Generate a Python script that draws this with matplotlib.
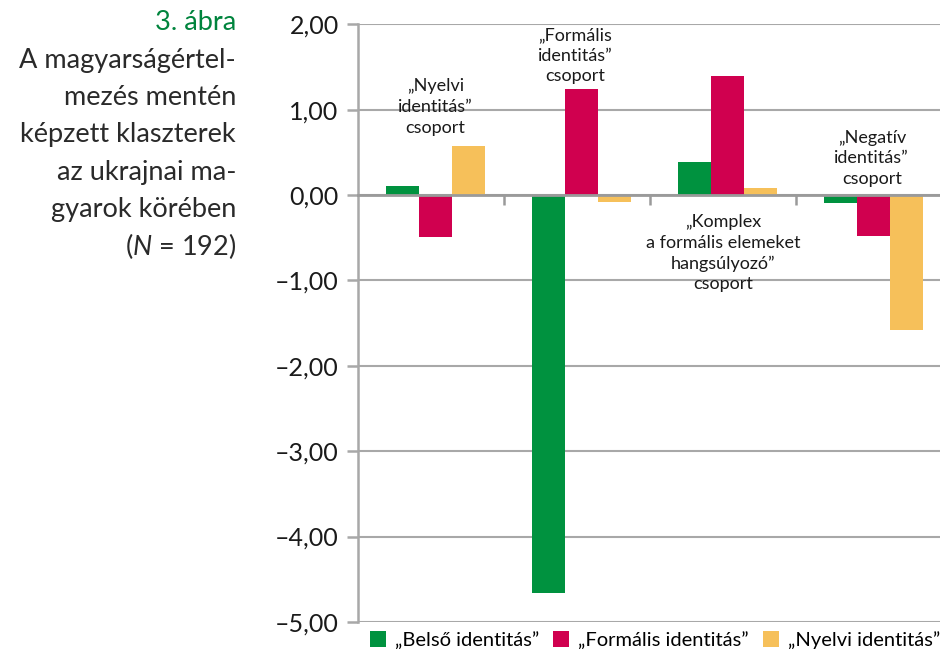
import matplotlib
matplotlib.use("Agg")
import matplotlib.pyplot as plt
import numpy as np

plt.rcParams['font.family'] = ['Lato', 'DejaVu Sans']
plt.rcParams['mathtext.fontset'] = 'custom'
plt.rcParams['mathtext.rm'] = 'Lato'
plt.rcParams['mathtext.it'] = 'Lato:italic'

# data
groups = ['„Nyelvi\nidentitás”\ncsoport',
          '„Formális\nidentitás”\ncsoport',
          '„Komplex\na formális elemeket\nhangsúlyozó”\ncsoport',
          '„Negatív\nidentitás”\ncsoport']
series = ['„Belső identitás”', '„Formális identitás”', '„Nyelvi identitás”']
belso = [0.11, -4.66, 0.39, -0.09]
formalis = [-0.49, 1.24, 1.39, -0.48]
nyelvi = [0.57, -0.08, 0.08, -1.58]
yticks = [2, 1, 0, -1, -2, -3, -4, -5]

colors = ['#00923f', '#d0004f', '#f6c05a']
grid_c = '#a8a8a8'

fig = plt.figure(figsize=(9.4, 6.54), dpi=100)
ax = fig.add_axes([0.381, 0.049, 0.621, 0.914])

x = np.arange(len(groups))
w = 0.225
for k, (vals, c, lab) in enumerate(zip([belso, formalis, nyelvi], colors, series)):
    ax.bar(x + (k - 1) * w + 0.03, vals, width=w, color=c, label=lab, zorder=3)

ax.set_xlim(-0.5, 3.5)
ax.set_ylim(-5, 2)
ax.set_yticks(yticks)
ax.set_yticklabels([f"{v:.2f}".replace('.', ',').replace('-', '–') for v in yticks],
                   fontsize=18, color='#1a1a1a')
ax.yaxis.grid(True, color=grid_c, linewidth=1.5, zorder=0)
ax.set_axisbelow(True)

for s in ['top', 'right']:
    ax.spines[s].set_visible(False)
ax.spines['left'].set_color(grid_c)
ax.spines['left'].set_linewidth(1.8)
ax.spines['bottom'].set_position(('data', 0))
ax.spines['bottom'].set_color('#9a9a9a')
ax.spines['bottom'].set_linewidth(2)
ax.spines['bottom'].set_zorder(4)
ax.set_xticks([0.5, 1.5, 2.5])
ax.set_xticklabels([])
ax.tick_params(axis='x', direction='out', length=7, width=1.8, color='#9a9a9a')
ax.tick_params(axis='y', direction='out', length=8, width=1.8, color=grid_c, pad=6)

# cluster labels
label_pos = [(0.03, 1.03), (0.99, 1.63), (2.0, -0.68), (3.02, 0.43)]
for g, (gx, gy) in zip(groups, label_pos):
    ax.text(gx, gy, g, ha='center', va='center', fontsize=13,
            color='#1a1a1a', linespacing=1.35, zorder=5)

# caption on the left
fig.text(0.251, 0.966, '3. ábra', ha='right', va='center', fontsize=19.5, color='#00843d')
cap = ['A magyarságértel-', 'mezés mentén', 'képzett klaszterek',
       'az ukrajnai ma-', 'gyarok körében', '($\\mathit{N}$ = 192)']
for i, line in enumerate(cap):
    fig.text(0.251, 0.907 - i * 0.0567, line, ha='right', va='center',
             fontsize=19.5, color='#2a2a2a')

fig.legend(loc='center', bbox_to_anchor=(0.697, 0.021), ncol=3, frameon=False,
           fontsize=14.5, handlelength=0.8, handleheight=0.8, handletextpad=0.45,
           columnspacing=0.7)

fig.savefig('out.png', dpi=100)
